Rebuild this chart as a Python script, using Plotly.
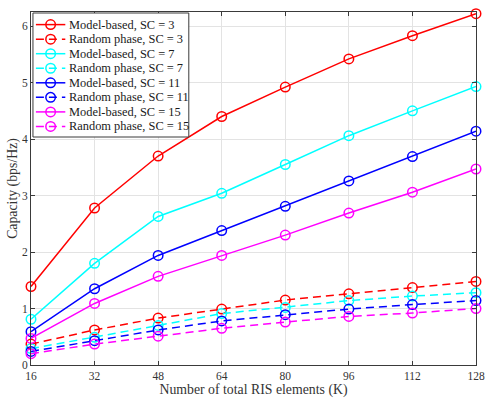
import plotly.graph_objects as go

# Number of total RIS elements (K)
k_elements = [16, 32, 48, 64, 80, 96, 112, 128]

# Capacity (bps/Hz), model-based configuration
model_sc3 = [1.39, 2.78, 3.70, 4.40, 4.92, 5.42, 5.83, 6.22]
model_sc7 = [0.81, 1.80, 2.63, 3.04, 3.55, 4.06, 4.50, 4.93]
model_sc11 = [0.59, 1.35, 1.94, 2.38, 2.81, 3.26, 3.69, 4.14]
model_sc15 = [0.47, 1.09, 1.57, 1.94, 2.30, 2.69, 3.06, 3.47]

# Capacity (bps/Hz), random phase configuration
random_sc3 = [0.37, 0.62, 0.83, 0.99, 1.15, 1.26, 1.37, 1.48]
random_sc7 = [0.29, 0.49, 0.70, 0.91, 1.02, 1.14, 1.22, 1.28]
random_sc11 = [0.24, 0.43, 0.62, 0.78, 0.89, 0.99, 1.07, 1.14]
random_sc15 = [0.20, 0.37, 0.51, 0.65, 0.76, 0.86, 0.92, 1.00]

x_ticks = [16, 32, 48, 64, 80, 96, 112, 128]
y_ticks = [0, 1, 2, 3, 4, 5, 6]

series = [
    ("Model-based, SC = 3", model_sc3, "#ff0000", "solid"),
    ("Random phase, SC = 3", random_sc3, "#ff0000", "8px,5px"),
    ("Model-based, SC = 7", model_sc7, "#00ffff", "solid"),
    ("Random phase, SC = 7", random_sc7, "#00ffff", "8px,5px"),
    ("Model-based, SC = 11", model_sc11, "#0000ff", "solid"),
    ("Random phase, SC = 11", random_sc11, "#0000ff", "8px,5px"),
    ("Model-based, SC = 15", model_sc15, "#ff00ff", "solid"),
    ("Random phase, SC = 15", random_sc15, "#ff00ff", "8px,5px"),
]

W, H = 493, 401
M_L, M_R, M_T, M_B = 31, 8, 12, 36
PLOT_W = W - M_L - M_R
PLOT_H = H - M_T - M_B

LINE_W = 1.5
MARKER_D = 9.5

fig = go.Figure()
for name, values, color, dash in series:
    fig.add_trace(go.Scatter(
        x=k_elements, y=values, name=name, mode="lines+markers",
        line=dict(color=color, width=LINE_W, dash=dash),
        marker=dict(symbol="circle-open", size=MARKER_D, color=color,
                    line=dict(width=LINE_W, color=color)),
        cliponaxis=False, showlegend=False,
    ))


def px_x(px):
    """Horizontal pixel position -> paper fraction."""
    return (px - M_L) / PLOT_W


def px_y(py):
    """Vertical pixel position (from top) -> paper fraction."""
    return 1 - (py - M_T) / PLOT_H


# Boxed legend in the upper-left corner of the axes, MATLAB style
font_family = "Liberation Serif"
box_l, box_r, box_t, box_b = 33, 192, 13, 137
row0, row_step = 24.6, 14.55
sym_l, sym_r, sym_c, text_l = 36, 66, 51, 67.5

shapes = [dict(type="rect", xref="paper", yref="paper",
               x0=px_x(box_l), x1=px_x(box_r), y0=px_y(box_b), y1=px_y(box_t),
               line=dict(color="#3a3a3a", width=1), fillcolor="white",
               layer="above")]
annotations = []
for i, (name, values, color, dash) in enumerate(series):
    yc = px_y(row0 + i * row_step)
    shapes.append(dict(type="line", xref="paper", yref="paper",
                       x0=px_x(sym_l), x1=px_x(sym_r), y0=yc, y1=yc,
                       line=dict(color=color, width=LINE_W, dash=dash),
                       layer="above"))
    shapes.append(dict(type="circle", xref="paper", yref="paper",
                       xsizemode="pixel", ysizemode="pixel",
                       xanchor=px_x(sym_c), yanchor=yc,
                       x0=-MARKER_D / 2, x1=MARKER_D / 2,
                       y0=-MARKER_D / 2, y1=MARKER_D / 2,
                       line=dict(color=color, width=LINE_W),
                       fillcolor="rgba(0,0,0,0)", layer="above"))
    annotations.append(dict(xref="paper", yref="paper", x=px_x(text_l), y=yc,
                            xanchor="left", yanchor="middle", showarrow=False,
                            text=name, xshift=0,
                            font=dict(family=font_family, size=12.4,
                                      color="#1a1a1a")))

axis_common = dict(
    showgrid=True, gridcolor="#e3e3e3", gridwidth=1,
    showline=True, linecolor="#3a3a3a", linewidth=1, mirror="ticks",
    ticks="inside", ticklen=4, tickcolor="#3a3a3a",
    zeroline=False, ticklabeloverflow="allow",
    tickfont=dict(family=font_family, size=11.5, color="#333333"),
)

fig.update_layout(
    width=W, height=H,
    margin=dict(l=M_L, r=M_R, t=M_T, b=M_B),
    paper_bgcolor="white", plot_bgcolor="white",
    font=dict(family=font_family, size=12, color="#333333"),
    xaxis=dict(
        range=[16, 128], tickvals=x_ticks,
        title=dict(text="Number of total RIS elements (K)", standoff=2,
                   font=dict(family=font_family, size=13.8, color="#333333")),
        **axis_common,
    ),
    yaxis=dict(
        range=[0, 6.25], tickvals=y_ticks,
        title=dict(text="Capacity (bps/Hz)", standoff=1,
                   font=dict(family=font_family, size=13.8, color="#333333")),
        **axis_common,
    ),
    shapes=shapes,
    annotations=annotations,
    showlegend=False,
)

fig.write_html("out.html")
